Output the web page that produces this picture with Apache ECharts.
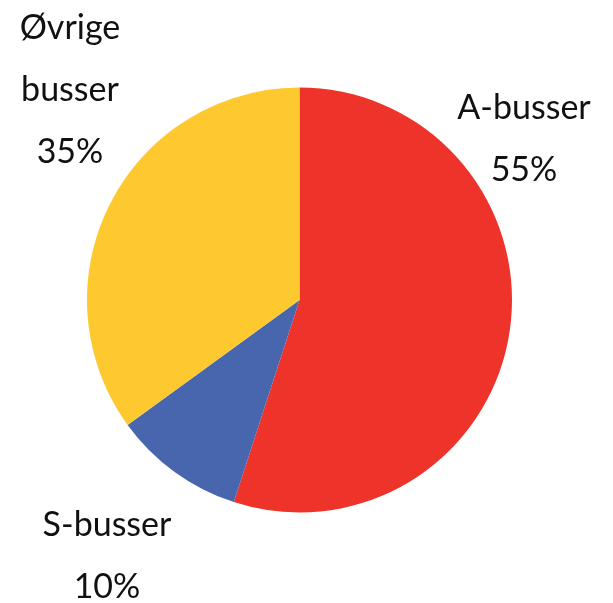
<!DOCTYPE html>
<html>
<head>
<meta charset="utf-8">
<script src="https://cdn.jsdelivr.net/npm/echarts@6/dist/echarts.min.js"></script>
<style>
  html, body { margin: 0; padding: 0; background: #fff; }
  #chart { width: 613px; height: 603px; }
</style>
</head>
<body>
<div id="chart"></div>
<script>
// andel busser per type (%)
var categories = ['A-busser', 'S-busser', 'Øvrige busser'];
var values = [55, 10, 35];
var colors = ['#EE332B', '#4766AE', '#FDC92F'];

// where each label block sits (centre of text block)
var labelPos = [
  [524, 139],
  [107, 556],
  [70, 90]
];

var chart = echarts.init(document.getElementById('chart'), null, { renderer: 'canvas' });

var option = {
  animation: false,
  series: [{
    type: 'pie',
    center: [299.5, 300],
    radius: 212.5,
    startAngle: 90,
    clockwise: true,
    label: {
      show: true,
      position: 'outside',
      overflow: 'none',
      width: 200,
      fontFamily: 'Lato',
      fontSize: 34,
      lineHeight: 62,
      color: '#111',
      align: 'center',
      formatter: function (p) {
        return p.name.replace(' ', '\n') + '\n' + p.value + '%';
      }
    },
    labelLine: { show: false },
    labelLayout: function (params) {
      var pos = labelPos[params.dataIndex];
      return { x: pos[0], y: pos[1], align: 'center', verticalAlign: 'middle' };
    },
    data: categories.map(function (name, i) {
      return { name: name, value: values[i], itemStyle: { color: colors[i] } };
    })
  }]
};

chart.setOption(option);
</script>
</body>
</html>
